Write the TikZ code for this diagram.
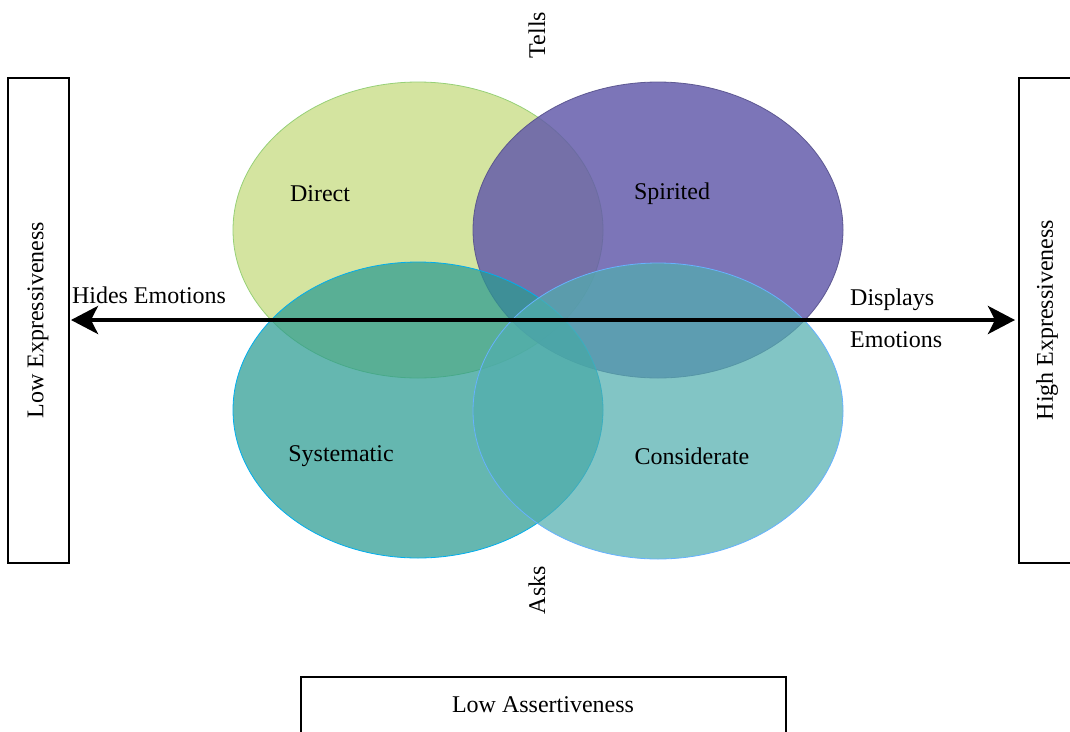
\documentclass[tikz,border=0pt]{standalone}
\usepackage{fontspec}
\setmainfont{Liberation Serif}
\usetikzlibrary{shapes.geometric,arrows.meta}
\definecolor{dirfill}{RGB}{212,228,160}
\definecolor{dirline}{RGB}{151,208,119}
\definecolor{spifill}{RGB}{99,90,170}
\definecolor{spiline}{RGB}{86,81,140}
\definecolor{sysfill}{RGB}{42,155,145}
\definecolor{sysline}{RGB}{0,174,239}
\definecolor{confill}{RGB}{82,174,174}
\definecolor{conline}{RGB}{102,178,255}
\tikzset{
  blob/.style={ellipse, minimum width=370pt, minimum height=296pt, inner sep=0pt, line width=0.8pt},
  lbl/.style={font=\fontsize{24}{29}\selectfont, inner sep=0pt, text=black},
  sidebox/.style={draw=black, line width=1.3pt, fill=white}
}
\begin{document}
\begin{tikzpicture}[x=1pt,y=-1pt]
\useasboundingbox (0,0) rectangle (1070,731);
% ellipses
\node[blob, fill=dirfill, draw=dirline] (direct) at (418,230) {};
\node[blob, fill=spifill, fill opacity=0.84, draw=spiline, draw opacity=0.9] (spirited) at (658,230) {};
\node[blob, fill=sysfill, fill opacity=0.72, draw=sysline] (systematic) at (418,410) {};
\node[blob, fill=confill, fill opacity=0.72, draw=conline] (considerate) at (658,411) {};
% labels in ellipses
\node[lbl] (tdirect) at (320,194) {Direct};
\node[lbl] (tspirited) at (672,194) {Spirited};
\node[lbl] (tsystematic) at (341,456) {Systematic};
\node[lbl] (tconsiderate) at (692,456) {Considerate};
% side boxes
\draw[sidebox] (8,78) rectangle (69,563);
\coordinate (lboxE) at (69,320);
\node[lbl, rotate=90] (lboxt) at (38,320) {Low Expressiveness};
\draw[sidebox] (1019,78) rectangle (1085,563);
\coordinate (rboxW) at (1019,320);
\node[lbl, rotate=90] (rboxt) at (1047,320) {High Expressiveness};
\draw[sidebox] (301,677) rectangle (786,745);
\node[lbl] (bboxt) at (543,705) {Low Assertiveness};
% axis labels
\node[lbl, rotate=90] (tells) at (537,35) {Tells};
\node[lbl, rotate=90] (asks) at (537,590) {Asks};
\node[lbl] (hides) at (149,295) {Hides Emotions};
\node[lbl, anchor=west] (disp) at (850,300) {Displays};
\node[lbl, anchor=west] (emot) at (850,340) {Emotions};
% arrow
\draw[line width=4pt, {Stealth[length=27pt,width=28pt,inset=7pt]}-{Stealth[length=27pt,width=28pt,inset=7pt]}, shorten <=2pt, shorten >=4pt] (lboxE) -- (rboxW);
\end{tikzpicture}
\end{document}
